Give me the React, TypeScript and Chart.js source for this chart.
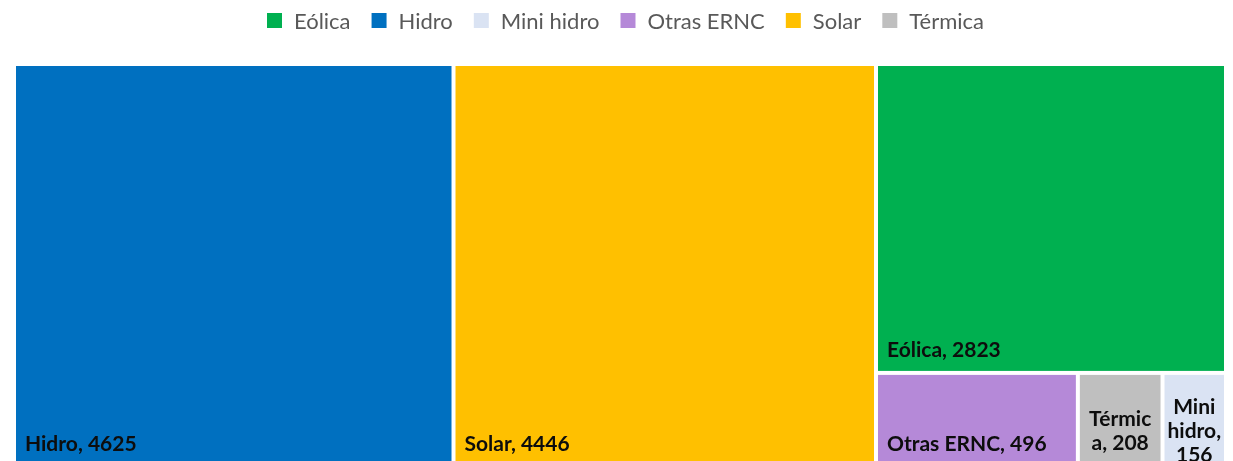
import { useEffect, useRef } from 'react';
import { Chart, registerables } from 'chart.js';

Chart.register(...registerables);

// ---- Data ----
const categories: string[] = ['Eólica', 'Hidro', 'Mini hidro', 'Otras ERNC', 'Solar', 'Térmica'];
const values: number[] = [2823, 4625, 156, 496, 4446, 208];
const colors: string[] = ['#00B050', '#0070C0', '#DAE3F3', '#B589D8', '#FFC000', '#BFBFBF'];

const LABEL_FONT_FAMILY = 'Lato';
const LABEL_FONT_SIZE = 21;
const LEGEND_FONT_SIZE = 22;

type Item = { i: number; area: number };
type Rect = { x: number; y: number; w: number; h: number };

function worst(row: Item[], side: number): number {
  let sum = 0, mx = -Infinity, mn = Infinity;
  for (const r of row) { sum += r.area; mx = Math.max(mx, r.area); mn = Math.min(mn, r.area); }
  const s2 = side * side;
  return Math.max((s2 * mx) / (sum * sum), (sum * sum) / (s2 * mn));
}

function squarify(itemsIn: Item[], bounds: Rect): { i: number; r: Rect }[] {
  const items = itemsIn.slice();
  const out: { i: number; r: Rect }[] = [];
  const rect = { ...bounds };
  let row: Item[] = [];
  const layoutRow = (rw: Item[]) => {
    const s = rw.reduce((a, b) => a + b.area, 0);
    if (rect.w >= rect.h) {
      const cw = s / rect.h;
      let yy = rect.y;
      for (const it of rw) {
        const hh = it.area / cw;
        out.push({ i: it.i, r: { x: rect.x, y: yy, w: cw, h: hh } });
        yy += hh;
      }
      rect.x += cw; rect.w -= cw;
    } else {
      const rh = s / rect.w;
      let xx = rect.x;
      for (const it of rw) {
        const ww = it.area / rh;
        out.push({ i: it.i, r: { x: xx, y: rect.y, w: ww, h: rh } });
        xx += ww;
      }
      rect.y += rh; rect.h -= rh;
    }
  };
  while (items.length) {
    const side = Math.min(rect.w, rect.h);
    const c = items[0];
    if (row.length === 0 || worst([...row, c], side) <= worst(row, side)) {
      row.push(c);
      items.shift();
    } else {
      layoutRow(row);
      row = [];
    }
  }
  if (row.length) layoutRow(row);
  return out;
}

// trailing punctuation is allowed to hang past the wrap width
function fitWidth(ctx: CanvasRenderingContext2D, s: string): number {
  return ctx.measureText(s.replace(/[,.;:]$/, '')).width;
}

function wrapText(ctx: CanvasRenderingContext2D, text: string, maxW: number): string[] {
  const words = text.split(' ');
  const lines: string[] = [];
  let cur = '';
  for (const word of words) {
    const cand = cur ? cur + ' ' + word : word;
    if (fitWidth(ctx, cand) <= maxW) { cur = cand; continue; }
    if (cur) { lines.push(cur); cur = ''; }
    if (fitWidth(ctx, word) <= maxW) { cur = word; continue; }
    let piece = '';
    for (const ch of word) {
      if (fitWidth(ctx, piece + ch) <= maxW || piece === '') piece += ch;
      else { lines.push(piece); piece = ch; }
    }
    cur = piece;
  }
  if (cur) lines.push(cur);
  return lines;
}

const treemapPlugin = {
  id: 'treemapRects',
  afterDatasetsDraw(chart: any) {
    const xs = chart.scales.x;
    const ys = chart.scales.y;
    const left = xs.getPixelForValue(0);
    const right = xs.getPixelForValue(1);
    const top = ys.getPixelForValue(0);
    const bottom = ys.getPixelForValue(1);
    const W = right - left;
    const H = bottom - top;
    const total = values.reduce((a, b) => a + b, 0);
    const items: Item[] = values
      .map((v, i) => ({ i, area: (v / total) * W * H }))
      .filter((d) => d.area > 0)
      .sort((a, b) => b.area - a.area);
    const laid = squarify(items, { x: 0, y: 0, w: W, h: H });
    const ctx: CanvasRenderingContext2D = chart.ctx;
    ctx.save();
    const gap = 2;
    for (const { i, r } of laid) {
      const x0 = xs.getPixelForValue(r.x / W);
      const x1 = xs.getPixelForValue((r.x + r.w) / W);
      const y0 = ys.getPixelForValue(r.y / H);
      const y1 = ys.getPixelForValue((r.y + r.h) / H);
      const rx = x0 + gap, ry = y0 + gap, rw = x1 - x0 - 2 * gap, rh = y1 - y0 - 2 * gap;
      ctx.fillStyle = colors[i];
      ctx.fillRect(rx, ry, rw, rh);

      ctx.font = `bold ${LABEL_FONT_SIZE}px ${LABEL_FONT_FAMILY}`;
      ctx.fillStyle = '#0d0d0d';
      ctx.textBaseline = 'alphabetic';
      const text = `${categories[i]}, ${values[i]}`;
      const lines = wrapText(ctx, text, rw * 0.82);
      if (lines.length === 1) {
        ctx.textAlign = 'left';
        ctx.fillText(text, rx + 9, ry + rh - 14);
      } else {
        ctx.textAlign = 'center';
        const lineH = 24;
        const capH = 15;
        const blockH = capH + (lines.length - 1) * lineH;
        const center = ry + rh / 2 + 11;
        const first = center - blockH / 2 + capH;
        lines.forEach((ln, k) => ctx.fillText(ln, rx + rw / 2, first + k * lineH));
      }
    }
    ctx.restore();
  },
};

function makeSwatch(color: string): HTMLCanvasElement {
  const c = document.createElement('canvas');
  c.width = 27;
  c.height = 18;
  const g = c.getContext('2d')!;
  g.fillStyle = color;
  g.fillRect(11, 0, 15, 15);
  return c;
}

export default function App() {
  const canvasRef = useRef<HTMLCanvasElement | null>(null);

  useEffect(() => {
    if (!canvasRef.current) return;
    const swatches = colors.map(makeSwatch);
    const chart = new Chart(canvasRef.current, {
      type: 'scatter',
      data: {
        datasets: categories.map((c, i) => ({
          label: c,
          data: [] as any[],
          backgroundColor: colors[i],
          borderColor: colors[i],
        })),
      },
      options: {
        responsive: false,
        animation: false,
        events: [],
        layout: { padding: { left: 14, right: 7, top: 1, bottom: 3 } },
        scales: {
          x: {
            type: 'linear',
            position: 'top',
            min: 0,
            max: 1,
            display: true,
            grid: { display: false },
            border: { display: false },
            ticks: { display: false },
            afterFit: (s: any) => { s.height = 21; },
          },
          y: { type: 'linear', min: 0, max: 1, reverse: true, display: false },
        },
        plugins: {
          tooltip: { enabled: false },
          legend: {
            display: true,
            position: 'top',
            labels: {
              usePointStyle: true,
              pointStyleWidth: 27,
              boxHeight: 18,
              padding: 10,
              color: '#595959',
              font: { family: 'Lato', size: LEGEND_FONT_SIZE },
              generateLabels: () =>
                categories.map((c, i) => ({
                  text: c,
                  fillStyle: colors[i],
                  strokeStyle: colors[i],
                  lineWidth: 0,
                  hidden: false,
                  datasetIndex: i,
                  pointStyle: swatches[i],
                  fontColor: '#595959',
                })),
            },
          },
        },
      },
      plugins: [treemapPlugin],
    } as any);
    return () => chart.destroy();
  }, []);

  return (
    <div style={{ position: 'fixed', left: 0, top: 0, width: 1233, height: 461, overflow: 'hidden', background: '#fff' }}>
      <canvas ref={canvasRef} width={1233} height={470} style={{ display: 'block' }} />
    </div>
  );
}
